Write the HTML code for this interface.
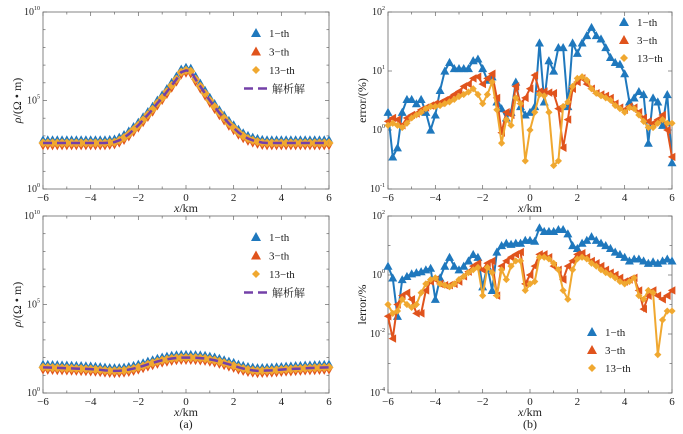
<!DOCTYPE html>
<html><head><meta charset="utf-8"><style>
body{margin:0;background:#fff;}
svg{display:block;font-family:"Liberation Serif","Noto Serif CJK SC",serif;}
</style></head><body>
<svg id="c" width="683" height="434" viewBox="0 0 683 434" xmlns="http://www.w3.org/2000/svg"></svg>
<script>
const xs = [];
for (let i = 0; i <= 60; i++) xs.push(-6 + i * 0.2);
// panel (a) top: log10 rho
const rhoTop = [2.6,2.6,2.6,2.6,2.6,2.6,2.6,2.6,2.6,2.6,2.6,2.6,2.6,2.6,2.62,2.65,2.75,2.9,3.1,3.35,3.6,3.9,4.2,4.5,4.85,5.15,5.5,5.85,6.2,6.6,6.7,6.65,6.2,5.8,5.4,5.0,4.65,4.3,4.0,3.7,3.45,3.2,3.0,2.85,2.75,2.68,2.62,2.6,2.6,2.6,2.6,2.6,2.6,2.6,2.6,2.6,2.6,2.6,2.6,2.6,2.6];
// panel (a) bottom: log10 rho
const rhoBot = [1.45,1.44,1.43,1.42,1.41,1.4,1.39,1.38,1.37,1.36,1.35,1.33,1.31,1.28,1.26,1.25,1.26,1.28,1.32,1.38,1.45,1.53,1.62,1.7,1.78,1.85,1.9,1.95,1.98,2.0,2.0,2.0,1.99,1.97,1.95,1.9,1.85,1.78,1.7,1.62,1.55,1.45,1.38,1.32,1.28,1.25,1.26,1.27,1.28,1.3,1.32,1.34,1.35,1.37,1.38,1.4,1.41,1.42,1.43,1.44,1.45];
// panel (b) top: error %
const errTop1 = [2,0.35,0.5,2,3.3,3.3,2.8,3.3,2,1,1.8,4.7,10,14,11,11,11,11,15,16,11,7,8,3,2.3,1.6,2,6.5,2.5,1.8,2,2.5,30,3,15,10,25,25,2.5,30,20,30,40,55,40,35,25,17,14,13,9,3,3.5,4.5,4,0.6,3.5,3,1.2,4,0.28];
const errTop3 = [1.4,1.6,1.5,1.2,1.6,1.8,1.9,2.2,2.4,2.6,2.8,2.9,3.2,3.5,4,4.5,5.5,6,7.5,8,6,7.5,9,3.5,0.9,2,1.8,5.5,2.8,3.5,5,8.5,4.5,4.5,4.3,4.2,2.3,0.5,1.5,5,6.5,7.5,6,5,4.2,4,3.8,3.5,2.8,2.4,2.2,2.5,2.4,2,1.6,1.4,1.3,1.5,1.8,1,0.35];
const errTop13 = [1.2,1.3,1.2,1.1,1.3,1.6,1.8,2,2.3,2.5,2.5,2.6,2.8,3,3.3,3.7,4,4.4,5,4,2.8,4,6.5,2.2,0.6,1.5,1.2,3.5,2.8,0.3,1,2,4,3.8,2,0.25,0.3,2.5,3,5.5,7.5,8,7,5,4.2,3.8,3.5,3.2,2.6,2.3,2,2.4,2.3,1.8,1.4,1.1,1.1,1.3,1.5,1.3,1.3];
// panel (b) bottom: lerror %
const errBot1 = [2,0.8,0.04,0.7,0.9,1.1,1.2,1.3,1.5,1.7,0.15,0.8,2,4,2,1.5,2,3,5,4,0.4,2,0.3,6,10,12,11,12,12,15,15,14,40,30,30,30,35,35,25,10,8,12,15,20,15,12,10,8,6,5,4,3,3.5,3.5,3,2.5,2.8,2.5,3,3.5,3];
const errBot3 = [0.04,0.007,0.1,0.2,0.25,0.15,0.05,0.05,0.3,0.6,0.7,0.5,0.45,0.45,0.5,0.6,0.9,1.3,2,2.5,1.5,2.5,3,0.2,2,3,4,5,6,0.5,1,2,5,5,4,2,1.5,0.7,2,3,5,5.5,4,3,2.5,2,1.5,1.2,1,0.8,0.6,0.7,0.8,0.3,0.07,0.2,0.3,0.2,0.15,0.2,0.3];
const errBot13 = [0.1,0.05,0.06,0.15,0.1,0.08,0.1,0.25,0.5,0.7,0.8,0.5,0.45,0.4,0.5,0.7,0.9,1.2,1.5,1.8,0.2,1.8,1.2,0.2,1.5,0.7,2,3,3,0.3,0.5,0.6,4,4,3.5,2.5,1.5,0.3,0.15,1.5,3.5,4,3.5,2.5,2,1.5,1.2,1,0.8,0.6,0.5,0.6,0.8,0.2,0.15,0.3,0.25,0.002,0.03,0.06,0.06];
const xTicks = [-6,-4,-2,0,2,4,6];

const NS = "http://www.w3.org/2000/svg";
const svg = document.getElementById('c');
const C1 = "#1f78bd", C3 = "#e0531c", C13 = "#f0a830", CA = "#7440a8";
function el(tag, attrs, parent) {
  const e = document.createElementNS(NS, tag);
  for (const k in attrs) e.setAttribute(k, attrs[k]);
  (parent || svg).appendChild(e);
  return e;
}
function tri(g, x, y, s, col, rot) {
  const p = el('polygon', {points: `${x},${y - s} ${x - s},${y + s * 0.8} ${x + s},${y + s * 0.8}`, fill: col, transform: `rotate(${rot||0} ${x} ${y})`}, g);
  
  
}
function dia(g, x, y, s, col) {
  const p = el('polygon', {points: `${x},${y - s} ${x + s},${y} ${x},${y + s} ${x - s},${y}`, fill: col}, g);
  
  
}
function panel(name, L, T, R, B, ymin, ymax, yTickStep, ylabel) {
  const g = el('g', {});
  
  
  const sx = v => L + (v + 6) / 12 * (R - L);
  const sy = v => B - (v - ymin) / (ymax - ymin) * (B - T);
  const box = el('rect', {x: L, y: T, width: R - L, height: B - T, fill: 'none', stroke: '#666', 'stroke-width': 0.8}, g);
  
  
  for (let v = -6; v <= 6; v += 1) {
    const x = sx(v), len = (v % 2 === 0) ? 4 : 2.5;
    el('line', {x1: x, y1: B, x2: x, y2: B - len, stroke: '#666', 'stroke-width': 0.7}, g);
    el('line', {x1: x, y1: T, x2: x, y2: T + len, stroke: '#666', 'stroke-width': 0.7}, g);
  }
  xTicks.forEach(v => {
    const t = el('text', {x: sx(v), y: B + 12, 'font-size': 11, 'text-anchor': 'middle', fill: '#222'}, g);
    t.textContent = v < 0 ? '\u2212' + (-v) : String(v);
    
    
  });
  for (let v = ymin; v <= ymax; v += 1) {
    const y = sy(v), major = ((v - ymin) % yTickStep === 0);
    const len = major ? 4 : 2.5;
    el('line', {x1: L, y1: y, x2: L + len, y2: y, stroke: '#666', 'stroke-width': 0.7}, g);
    el('line', {x1: R, y1: y, x2: R - len, y2: y, stroke: '#666', 'stroke-width': 0.7}, g);
    if (major) {
      const t = el('text', {x: L - 3, y: y + 3, 'font-size': 10, 'text-anchor': 'end', fill: '#222'}, g);
      t.innerHTML = '10<tspan font-size="6" dy="-5">' + v + '</tspan>';
      
      
    }
  }
  const xl = el('text', {x: (L + R) / 2, y: B + 23, 'font-size': 12, 'text-anchor': 'middle', fill: '#222'}, g);
  xl.innerHTML = '<tspan font-style="italic">x</tspan>/km';
  
  
  const yl = el('text', {x: 0, y: 0, 'font-size': 12, 'text-anchor': 'middle', fill: '#222', transform: `translate(${L - 22},${(T + B) / 2}) rotate(-90)`}, g);
  yl.innerHTML = ylabel;
  
  
  return {g, sx, sy};
}
function errSeries(p, arr, col, kind) {
  const pts = arr.map((v, i) => `${p.sx(xs[i])},${p.sy(Math.log10(v))}`).join(' ');
  const l = el('polyline', {points: pts, fill: 'none', stroke: col, 'stroke-width': 2}, p.g);
  
  
  arr.forEach((v, i) => {
    const x = p.sx(xs[i]), y = p.sy(Math.log10(v));
    if (kind === 1) tri(p.g, x, y, 4.5, col, 0);
    else if (kind === 3) tri(p.g, x, y, 4.2, col, -90);
    else dia(p.g, x, y, 3.6, col);
  });
}
function rhoSeries(p, arr) {
  arr.forEach((v, i) => { tri(p.g, p.sx(xs[i]), p.sy(v + 0.22), 3.8, C1, 0); });
  arr.forEach((v, i) => { tri(p.g, p.sx(xs[i]), p.sy(v - 0.2), 3.8, C3, 180); });
  arr.forEach((v, i) => { dia(p.g, p.sx(xs[i]), p.sy(v), 4.6, C13); });
  const pts = arr.map((v, i) => `${p.sx(xs[i])},${p.sy(v)}`).join(' ');
  const l = el('polyline', {points: pts, fill: 'none', stroke: CA, 'stroke-width': 2.5, 'stroke-dasharray': '9,5'}, p.g);
  
  
}
function legend(g, x, y, dy, withAnalytic) {
  const lg = el('g', {}, g);
  
  
  const items = [['1\u2212th', C1, 1], ['3\u2212th', C3, 3], ['13\u2212th', C13, 13]];
  items.forEach((it, i) => {
    const yy = y + i * dy;
    if (it[2] === 13) dia(lg, x, yy, 4, it[1]); else tri(lg, x, yy, 5, it[1], 0);
    const t = el('text', {x: x + 13, y: yy + 4, 'font-size': 11, fill: '#222'}, lg);
    t.textContent = it[0];
    
    
  });
  if (withAnalytic) {
    const yy = y + 3 * dy;
    el('line', {x1: x - 12, y1: yy, x2: x + 15, y2: yy, stroke: CA, 'stroke-width': 2.5, 'stroke-dasharray': '9,5'}, lg);
    const t = el('text', {x: x + 16, y: yy + 4, 'font-size': 11, fill: '#222'}, lg);
    t.textContent = '解析解';
    
    
  }
}
const rhoLabel = '<tspan font-style="italic">ρ</tspan>/(Ω • m)';
const pa1 = panel('panel-a-top', 43, 12, 329, 189, 0, 10, 5, rhoLabel);
rhoSeries(pa1, rhoTop);
legend(pa1.g, 256, 33, 18.5, true);
const pa2 = panel('panel-a-bottom', 43, 216, 329, 393, 0, 10, 5, rhoLabel);
rhoSeries(pa2, rhoBot);
legend(pa2.g, 256, 237, 18.5, true);
const pb1 = panel('panel-b-top', 388, 12, 672, 189, -1, 2, 1, 'error/(%)');
errSeries(pb1, errTop1, C1, 1); errSeries(pb1, errTop3, C3, 3); errSeries(pb1, errTop13, C13, 13);
legend(pb1.g, 624, 22, 18, false);
const pb2 = panel('panel-b-bottom', 388, 216, 672, 393, -4, 2, 2, 'lerror/%');
errSeries(pb2, errBot1, C1, 1); errSeries(pb2, errBot3, C3, 3); errSeries(pb2, errBot13, C13, 13);
legend(pb2.g, 592, 332, 18, false);
const ca = el('text', {x: 186, y: 428, 'font-size': 12, 'text-anchor': 'middle', fill: '#222'});
ca.textContent = '(a)';


const cb = el('text', {x: 530, y: 428, 'font-size': 12, 'text-anchor': 'middle', fill: '#222'});
cb.textContent = '(b)';


</script>
</body></html>
